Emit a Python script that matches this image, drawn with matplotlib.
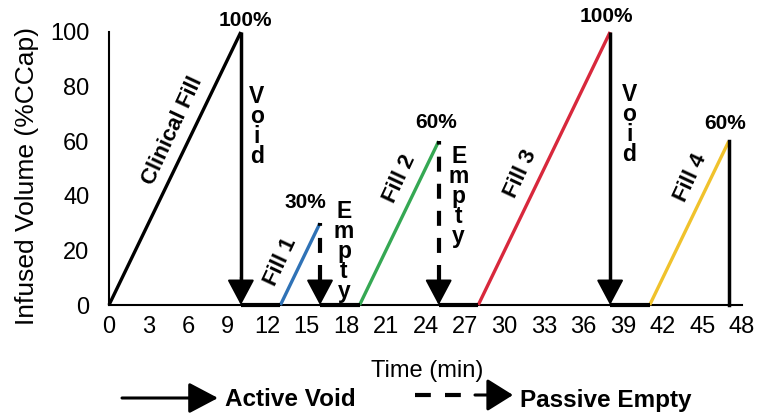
import matplotlib
matplotlib.use('Agg')
import matplotlib.pyplot as plt
from matplotlib.patches import FancyArrowPatch
from matplotlib.lines import Line2D

plt.rcParams['font.family'] = ['Liberation Sans', 'DejaVu Sans']

# ---- data ----
fill_names = ['Clinical Fill', 'Fill 1', 'Fill 2', 'Fill 3', 'Fill 4']
fill_start = [0, 13, 19, 28, 41]
fill_end = [10, 16, 25, 38, 47]
fill_peak = [100, 30, 60, 100, 60]
fill_colors = ['#000000', '#2f72b6', '#35a853', '#d8283c', '#f0c22c']
peak_labels = ['100%', '30%', '60%', '100%', '60%']
release_type = ['Void', 'Empty', 'Empty', 'Void', 'Stop']
x_ticks = list(range(0, 49, 3))
y_ticks = [0, 20, 40, 60, 80, 100]

# ---- layout (positions only) ----
W, H = 759, 418
fig = plt.figure(figsize=(W / 100, H / 100), dpi=100)
ax = fig.add_axes([109 / W, 1 - 305 / H, (742 - 109) / W, (305 - 32) / H])
ax.set_xlim(0, 48)
ax.set_ylim(0, 100)

for s in ['top', 'right']:
    ax.spines[s].set_visible(False)
for s in ['left', 'bottom']:
    ax.spines[s].set_linewidth(1.5)
ax.set_xticks(x_ticks)
ax.set_yticks(y_ticks)
ax.tick_params(axis='x', length=0, pad=8, labelsize=17)
ax.tick_params(axis='y', length=0, pad=14, labelsize=17)

ax.set_xlabel('Time (min)', fontsize=17, va='center')
ax.xaxis.set_label_coords(0.503, -0.2418)
ax.set_ylabel('Infused Volume (%CCap)', fontsize=19, va='center')
ax.yaxis.set_label_coords(-0.1295, 0.4725)

px = 0.72  # points per pixel
label_frac = [0.61, 0.43, 0.72, 0.45, 0.73]
label_off = (-16.5 * px, 8 * px)
pct_off = [(5, 12), (-15, 21), (-3, 19), (-4, 15), (-4, 18)]
stack_dx = [16, 24, 20, 19]
stack_top = [80.6, 38.5, 58.6, 81.3]
head_top = 9.2

# fills
for i in range(len(fill_names)):
    x0, x1, p = fill_start[i], fill_end[i], fill_peak[i]
    ax.plot([x0, x1], [0, p], color=fill_colors[i], lw=2.4,
            solid_capstyle='butt', clip_on=False, zorder=3)
    f = label_frac[i]
    ax.annotate(fill_names[i], xy=(x0 + f * (x1 - x0), f * p),
                xytext=label_off, textcoords='offset points',
                ha='center', va='center', rotation=65,
                rotation_mode='anchor', fontsize=16, fontweight='bold')
    ax.annotate(peak_labels[i], xy=(x1, p),
                xytext=(pct_off[i][0] * px, pct_off[i][1] * px),
                textcoords='offset points', ha='center', va='center',
                fontsize=15, fontweight='bold', annotation_clip=False)

# baseline segments between fills
for i in range(len(fill_names) - 1):
    ax.plot([fill_end[i], fill_start[i + 1]], [0, 0], color='black',
            lw=3, solid_capstyle='butt', clip_on=False, zorder=4)

# releases
for i, kind in enumerate(release_type):
    x, p = fill_end[i], fill_peak[i]
    if kind == 'Stop':
        ax.plot([x, x], [0, p], color='black', lw=2.5, clip_on=False, zorder=4)
        continue
    if kind == 'Void':
        ax.plot([x, x], [head_top, p], color='black', lw=2.5,
                solid_capstyle='butt', clip_on=False, zorder=4)
    else:
        ax.plot([x, x], [head_top, p], color='black', lw=3,
                dashes=(3.6, 2.9), clip_on=False, zorder=4)
    ax.annotate('', xy=(x, 0), xytext=(x, head_top + 1),
                arrowprops=dict(arrowstyle='-|>,head_length=16,head_width=8.5',
                                mutation_scale=1, lw=1.5, color='black',
                                shrinkA=0, shrinkB=0), zorder=5)
    ax.annotate('\n'.join(kind), xy=(x, stack_top[i]),
                xytext=(stack_dx[i] * px, 0), textcoords='offset points',
                ha='center', va='top', multialignment='center',
                linespacing=0.83, fontsize=16.5, fontweight='bold')

# ---- legend (figure coordinates) ----
yl = 1 - 398 / H
fig.patches.append(FancyArrowPatch((122 / W, yl), (218 / W, yl),
                                   transform=fig.transFigure,
                                   arrowstyle='-|>,head_length=18,head_width=9.5',
                                   mutation_scale=1, lw=2.2, color='black',
                                   shrinkA=0, shrinkB=0))
fig.text(225 / W, 1 - 399 / H, 'Active Void', ha='left', va='center',
         fontsize=17.5, fontweight='bold')
yd = 1 - 395 / H
fig.lines.append(Line2D([415 / W, 461 / W], [yd, yd], transform=fig.transFigure,
                        color='black', lw=3, dashes=(3.8, 3.4)))
fig.patches.append(FancyArrowPatch((475 / W, yd), (513 / W, yd),
                                   transform=fig.transFigure,
                                   arrowstyle='-|>,head_length=16,head_width=10',
                                   mutation_scale=1, lw=2.2, color='black',
                                   shrinkA=0, shrinkB=0))
fig.text(520 / W, 1 - 400 / H, 'Passive Empty', ha='left', va='center',
         fontsize=17.5, fontweight='bold')

fig.savefig('out.png', dpi=100)
